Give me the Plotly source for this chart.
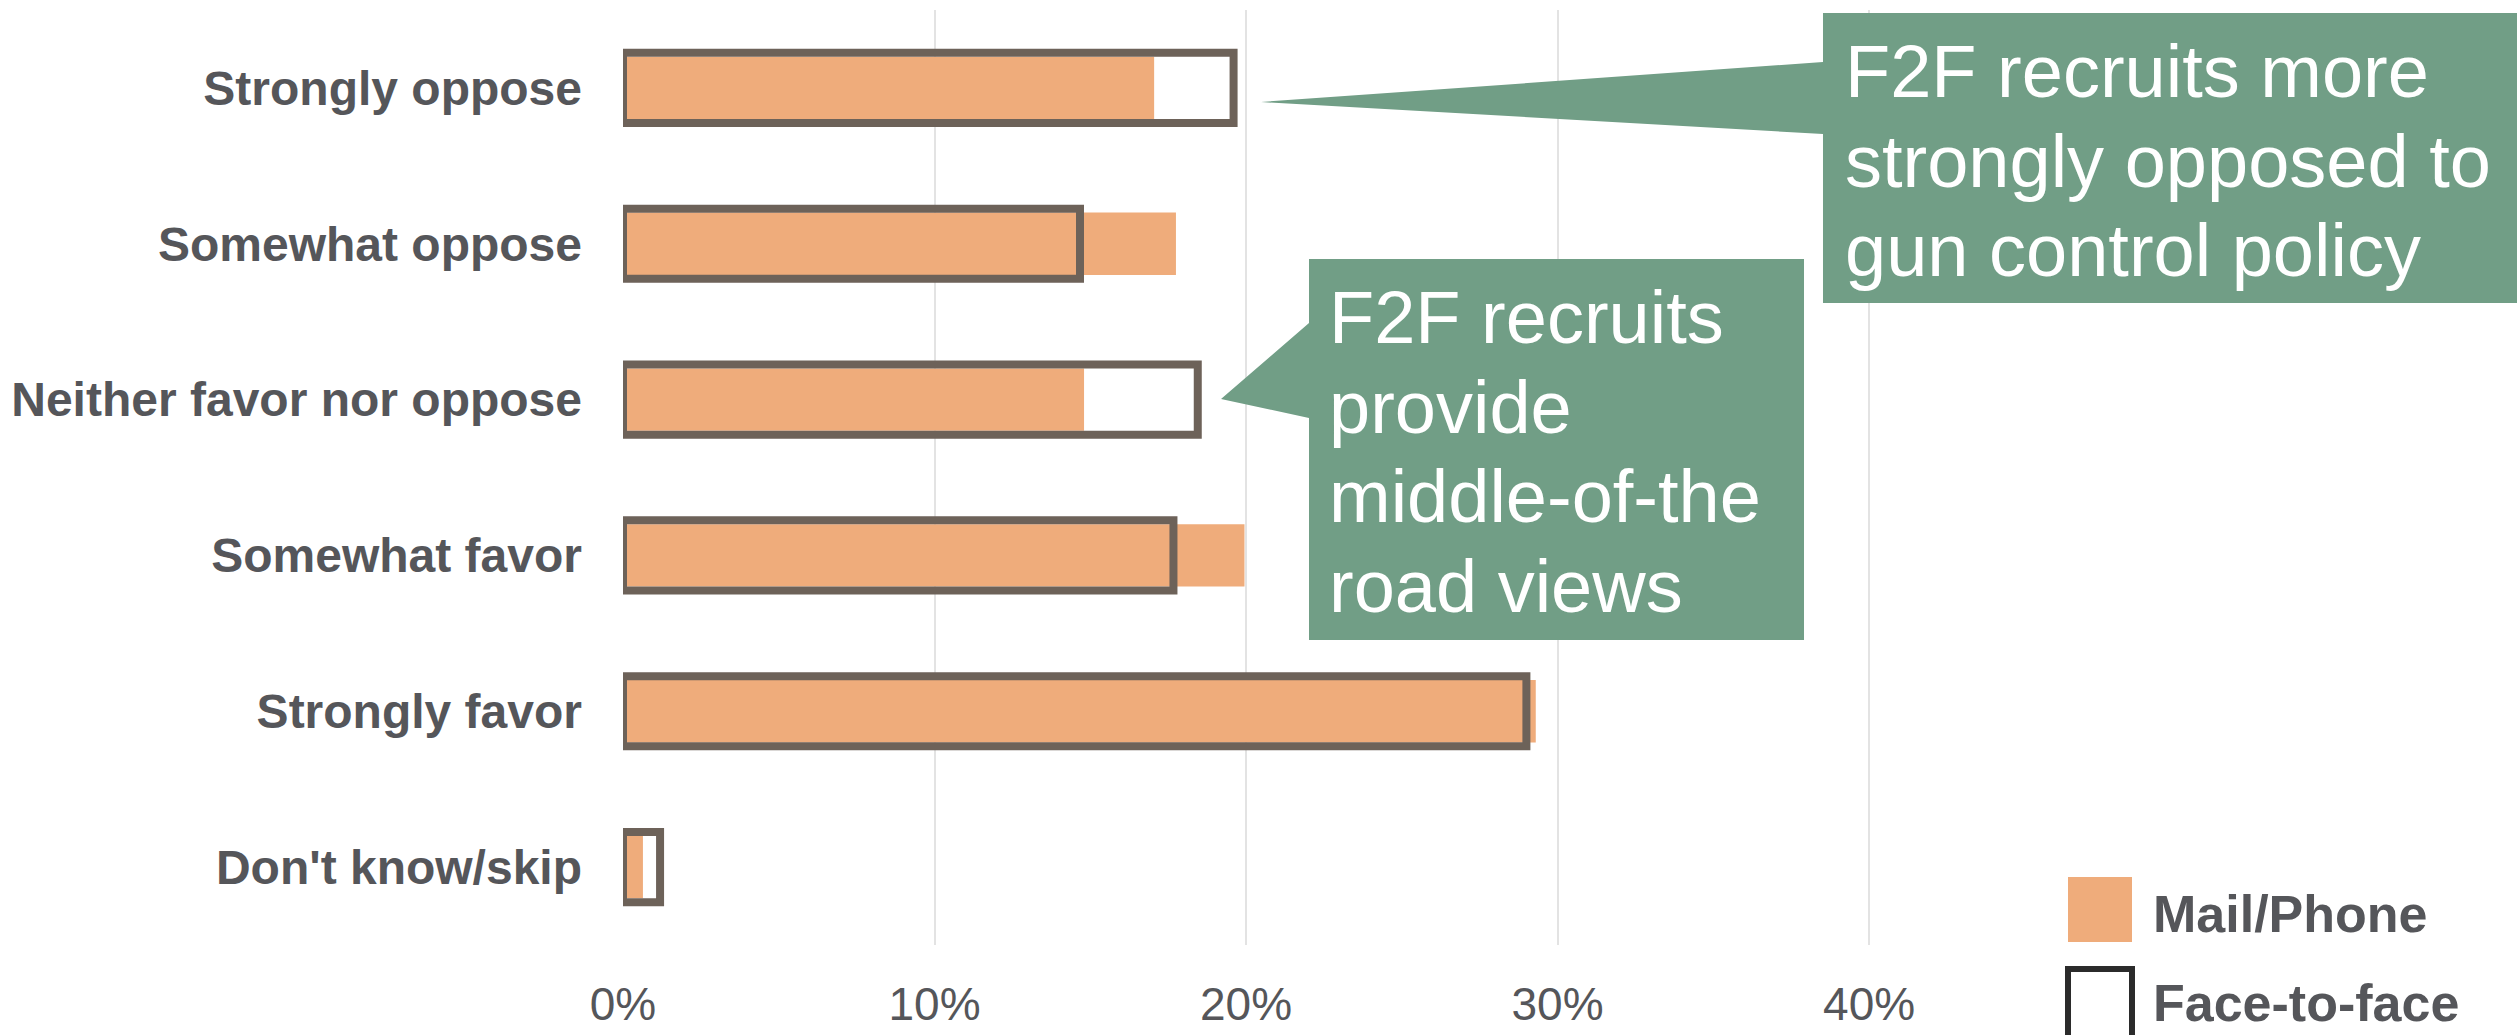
import plotly.graph_objects as go

# ---- data ----
categories = ["Strongly oppose", "Somewhat oppose", "Neither favor nor oppose",
              "Somewhat favor", "Strongly favor", "Don't know/skip"]
mail_phone = [17.05, 17.75, 14.8, 19.95, 29.3, 0.64]
face_to_face = [19.6, 14.67, 18.45, 17.67, 29.0, 1.19]
x_ticks = [0, 10, 20, 30, 40]
x_tick_labels = ["0%", "10%", "20%", "30%", "40%"]
series_names = ["Mail/Phone", "Face-to-face"]
callout1_lines = ["F2F recruits more", "strongly opposed to", "gun control policy"]
callout2_lines = ["F2F recruits", "provide", "middle-of-the", "road views"]

# ---- style ----
ORANGE = "#efac7b"
OUTLINE = "#6d6259"
GREEN = "#719e86"
TEXT = "#55565a"
FONT = "Liberation Sans, Arial, sans-serif"

W_FIG, H_FIG = 2517, 1035
L, R, T, B = 623, 2056, 10, 945
PW, PH = R - L, B - T


def px(x):
    return (x - L) / PW


def py(y):
    return (B - y) / PH


fig = go.Figure()
fig.add_trace(go.Bar(
    y=categories, x=mail_phone, orientation="h", name=series_names[0],
    width=0.40, marker=dict(color=ORANGE, line=dict(width=0)), showlegend=False,
))
fig.add_trace(go.Bar(
    y=categories, x=face_to_face, orientation="h", name=series_names[1],
    width=0.45, marker=dict(color="rgba(0,0,0,0)", line=dict(color=OUTLINE, width=8)),
    showlegend=False,
))

shapes = []
annotations = []

# callout 1
c1 = [(1823, 13), (2517, 13), (2517, 303), (1823, 303), (1823, 134), (1261, 102), (1823, 62)]
path1 = "M " + " L ".join(f"{px(x):.5f},{py(y):.5f}" for x, y in c1) + " Z"
shapes.append(dict(type="path", xref="paper", yref="paper", path=path1,
                   fillcolor=GREEN, line=dict(width=0), layer="above"))
# callout 2
c2 = [(1309, 259), (1804, 259), (1804, 640), (1309, 640), (1309, 418), (1221, 399), (1309, 323)]
path2 = "M " + " L ".join(f"{px(x):.5f},{py(y):.5f}" for x, y in c2) + " Z"
shapes.append(dict(type="path", xref="paper", yref="paper", path=path2,
                   fillcolor=GREEN, line=dict(width=0), layer="above"))

CS = 74
for line, base in zip(callout1_lines, [97, 187, 276]):
    annotations.append(dict(x=px(1843), y=py(base - 0.35 * CS), xref="paper", yref="paper",
                            text=line, showarrow=False, xanchor="left", yanchor="middle",
                            font=dict(family=FONT, size=CS, color="white")))
for line, base in zip(callout2_lines, [343, 433, 522, 612]):
    annotations.append(dict(x=px(1327), y=py(base - 0.35 * CS), xref="paper", yref="paper",
                            text=line, showarrow=False, xanchor="left", yanchor="middle",
                            font=dict(family=FONT, size=CS, color="white")))

# legend (manual, large swatches)
shapes.append(dict(type="rect", xref="paper", yref="paper",
                   x0=px(2068), x1=px(2132), y0=py(877), y1=py(942),
                   fillcolor=ORANGE, line=dict(width=0)))
shapes.append(dict(type="rect", xref="paper", yref="paper",
                   x0=px(2068), x1=px(2132), y0=py(969), y1=py(1040),
                   fillcolor="white", line=dict(color="#2b2b2b", width=6)))
LS = 52
annotations.append(dict(x=px(2151), y=py(932 - 0.35 * LS), xref="paper", yref="paper",
                        text=series_names[0], showarrow=False, xanchor="left", yanchor="middle",
                        font=dict(family=FONT, size=LS, color=TEXT, weight="bold")))
annotations.append(dict(x=px(2151), y=py(1021 - 0.35 * LS), xref="paper", yref="paper",
                        text=series_names[1], showarrow=False, xanchor="left", yanchor="middle",
                        font=dict(family=FONT, size=LS, color=TEXT, weight="bold")))

fig.update_layout(
    width=W_FIG, height=H_FIG,
    margin=dict(l=L, r=W_FIG - R, t=T, b=H_FIG - B, pad=0, autoexpand=False),
    paper_bgcolor="white", plot_bgcolor="white",
    barmode="overlay",
    shapes=shapes, annotations=annotations,
    xaxis=dict(range=[0, 46], tickvals=x_ticks, ticktext=x_tick_labels, showgrid=True,
               gridcolor="#e3e3e3", gridwidth=1.5, zeroline=False, showline=False,
               ticks="", ticklabelstandoff=28, automargin=False,
               tickfont=dict(family=FONT, size=46, color=TEXT)),
    yaxis=dict(categoryorder="array", categoryarray=categories, autorange="reversed",
               showgrid=False, zeroline=False, showline=False, ticks="",
               ticklabelstandoff=40, automargin=False,
               tickfont=dict(family=FONT, size=48, color=TEXT, weight="bold")),
)

fig.write_html("out.html", config={"displayModeBar": False},
               post_script="document.body.style.margin='0';document.body.style.overflow='hidden';")
